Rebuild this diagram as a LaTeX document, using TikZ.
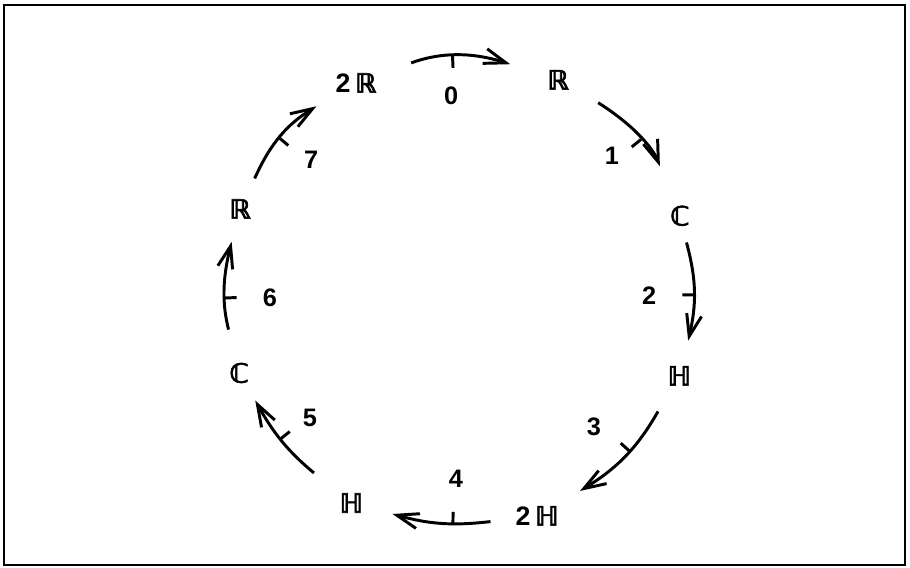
\documentclass[tikz,border=0pt]{standalone}
\usepackage{fontspec}
\setmainfont{Liberation Sans}
\newfontfamily\dsfont[FakeBold=2]{DejaVu Sans Bold}
\newcommand\dsl[1]{{\dsfont #1}}
\usetikzlibrary{arrows.meta, decorations.markings}
\tikzset{
    alg/.style={circle, inner sep=1pt, font=\bfseries\fontsize{19}{22}\selectfont},
    idx/.style={font=\bfseries\fontsize{18}{21}\selectfont, inner sep=1pt},
    frame/.style={draw, line width=1.4pt},
    bott/.style={line width=2.1pt, -{Straight Barb[length=5.5mm, width=3.8mm]},
        postaction={decorate},
        decoration={markings, mark=at position #1 with {\draw[-, shorten <=0pt, shorten >=0pt] (0,0) -- (0,-3mm);}}},
    bott/.default=0.5,
}
\begin{document}
\begin{tikzpicture}
        \useasboundingbox (0,0) rectangle (22.75,14.175);
        \draw[frame] (0.1,0.05) rectangle (22.625,14.05);
        % Algebras around the clock
        \node[alg, minimum size=2.10cm] (cl0) at (8.90,12.10)  {2\,\dsl{ℝ}};
        \node[alg, minimum size=2.20cm] (cl1) at (13.95,12.18) {\dsl{ℝ}};
        \node[alg, minimum size=1.36cm] (cl2) at (17.00,8.78)  {\dsl{ℂ}};
        \node[alg, minimum size=1.80cm] (cl3) at (16.98,4.78)  {\dsl{ℍ}};
        \node[alg, minimum size=2.34cm] (cl4) at (13.43,1.28)  {2\,\dsl{ℍ}};
        \node[alg, minimum size=2.12cm] (cl5) at (8.78,1.60)   {\dsl{ℍ}};
        \node[alg, minimum size=1.58cm] (cl6) at (5.98,4.85)   {\dsl{ℂ}};
        \node[alg, minimum size=1.68cm] (cl7) at (6.00,8.95)   {\dsl{ℝ}};
        % Indices
        \node[idx] (k0) at (11.28,11.78) {0};
        \node[idx] (k1) at (15.30,10.28) {1};
        \node[idx] (k2) at (16.23,6.78)  {2};
        \node[idx] (k3) at (14.85,3.50)  {3};
        \node[idx] (k4) at (11.40,2.20)  {4};
        \node[idx] (k5) at (7.75,3.73)   {5};
        \node[idx] (k6) at (6.75,6.73)   {6};
        \node[idx] (k7) at (7.78,10.18)  {7};
        % Arrows
        \draw[bott=0.475, shorten <=0.41cm, shorten >=0.15cm] (cl0) to[bend left=19] (cl1);
        \draw[bott=0.50, shorten <=0.05cm, shorten >=0.65cm] (cl1) to[bend left=18.5] (cl2);
        \draw[bott=0.535] (cl2) to[bend left=14] (cl3);
        \draw[bott=0.45, shorten <=0.13cm, shorten >=0.06cm] (cl3) to[bend left=14.5] (cl4);
        \draw[bott=0.38] (cl4) to[bend left=11] (cl5);
        \draw[bott=0.535, shorten <=0.13cm] (cl5) to[bend left=10.5] (cl6);
        \draw[bott=0.44, shorten <=0.32cm] (cl6) to[bend left=14] (cl7);
        \draw[bott=0.475, shorten >=0.09cm] (cl7) to[bend left=17] (cl0);
    \end{tikzpicture}
\end{document}
